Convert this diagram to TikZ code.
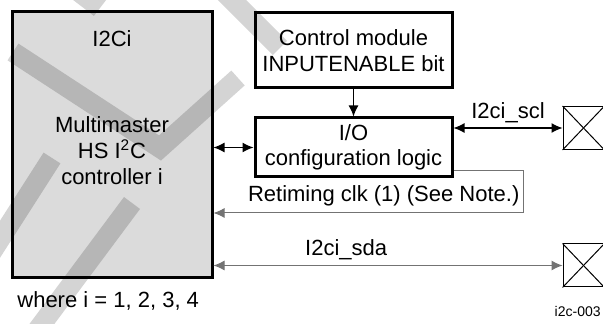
\documentclass[tikz,border=0pt]{standalone}
\usepackage{fontspec}
\setmainfont{Liberation Sans}
\usetikzlibrary{positioning,arrows.meta,calc}
\tikzset{
  ctrlbox/.style={rectangle,draw=black,fill=black!14,line width=1.5pt,
    minimum width=100pt,minimum height=133pt,inner sep=0pt},
  blk/.style={rectangle,draw=black,line width=1.5pt,align=center,inner sep=2pt,
    minimum width=98.5pt,font=\fontsize{11}{12.8}\selectfont},
  pad/.style={rectangle,draw=black,line width=0.5pt,minimum width=20.5pt,
    minimum height=21.5pt,inner sep=0pt},
  lbl/.style={font=\fontsize{11}{13}\selectfont,inner sep=1pt},
  arr/.style={-{Latex[length=5.5pt,width=5pt]},line width=0.6pt},
  biarr/.style={{Latex[length=5.5pt,width=5pt]}-{Latex[length=5.5pt,width=5pt]},line width=0.6pt},
  wire/.style={line width=0.5pt,draw=black!55},
  wmark/.style={line width=10pt,draw=black,opacity=0.17,line join=miter},
}
\begin{document}
\begin{tikzpicture}[x=0.5pt,y=-0.5pt,node distance=13.5pt]
  \useasboundingbox (0,0) rectangle (603,324);
  % controller block
  \node[ctrlbox] (i2c) at (112,145) {};
  \node[lbl] (i2cname) at (112,39) {I2Ci};
  \node[lbl,align=center] (i2cdesc) at (112,150.5)
    {Multimaster\\HS I\textsuperscript{2}C\\controller i};
  \node[lbl,anchor=west] (note) at (15,301) {where i = 1, 2, 3, 4};
  % control module and io logic
  \node[blk,minimum height=37.5pt] (cm) at (353.5,50.5) {Control module\\INPUTENABLE bit};
  \node[blk,minimum height=29.5pt,below=of cm] (io) {I/O\\configuration logic};
  % pads
  \node[pad] (sclpad) at (583.5,128) {};
  \node[pad] (sdapad) at (583.5,265.5) {};
  \foreach \p in {sclpad,sdapad}{
    \draw[line width=0.5pt] (\p.north west) -- (\p.south east);
    \draw[line width=0.5pt] (\p.south west) -- (\p.north east);
  }
  \coordinate (rtc) at (523,213);
  % connections
  \draw[arr] (cm) -- (io);
  \draw[biarr] (i2c.east |- io) -- (io.west);
  \draw[biarr] (io.east |- sclpad) -- (sclpad.west)
    node[lbl,above=1.5pt,pos=0.5] (scllbl) {I2ci\_scl};
  \draw[wire,-{Latex[length=5.5pt,width=5pt]}] ([yshift=4pt]io.south east) -| (rtc) -- (i2c.east |- rtc)
    node[lbl,above=2pt,pos=0.45,text=black] (rtlbl) {Retiming clk (1) (See Note.)};
  \draw[wire,{Latex[length=5.5pt,width=5pt]}-{Latex[length=5.5pt,width=5pt]}] (i2c.east |- sdapad) -- (sdapad.west)
    node[lbl,above=1.5pt,pos=0.38,text=black] (sdalbl) {I2ci\_sda};
  \node[anchor=east,inner sep=0pt,font=\fontsize{7}{8}\selectfont] (figid) at (601,311) {i2c-003};
  % watermark bands
  \draw[wmark] (13,52) -- (160,148) -- (238,78);
  \draw[wmark] (52,158) -- (-12,258);
  \draw[wmark] (132,203) -- (30,340);
  \draw[wmark] (70,-15) -- (100,8);
  \draw[wmark] (222,-10) -- (280,48);
\end{tikzpicture}
\end{document}
